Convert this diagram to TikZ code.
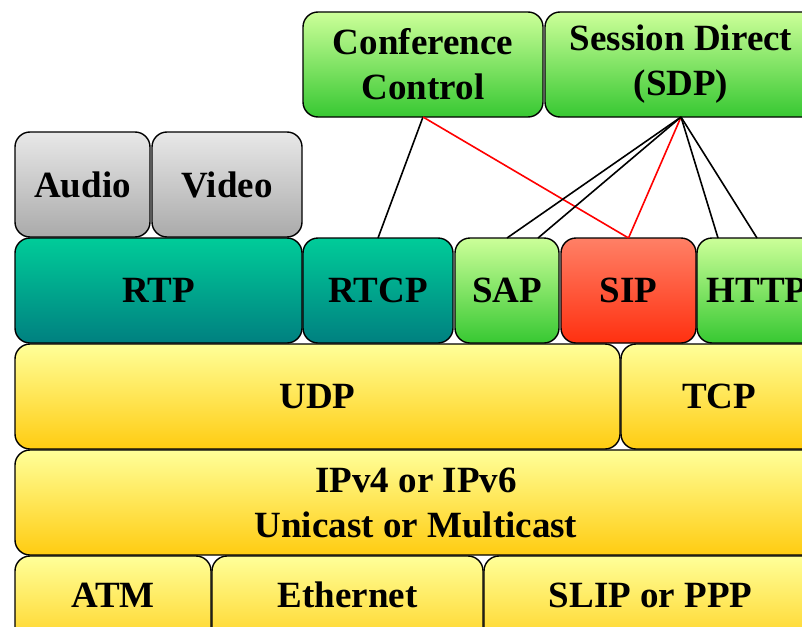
\documentclass[tikz,border=0pt]{standalone}
\usepackage{fontspec}
\setmainfont{Liberation Serif}
\usetikzlibrary{calc}
\definecolor{gtop}{RGB}{204,255,153}
\definecolor{gbot}{RGB}{55,200,50}
\definecolor{ttop}{RGB}{0,204,153}
\definecolor{tbot}{RGB}{0,128,128}
\definecolor{ytop}{RGB}{255,255,153}
\definecolor{ybot}{RGB}{255,204,17}
\definecolor{rtop}{RGB}{255,128,102}
\definecolor{rbot}{RGB}{255,48,16}
\definecolor{atop}{RGB}{232,232,232}
\definecolor{abot}{RGB}{170,170,170}
\begin{document}
\begin{tikzpicture}[x=1pt,y=-1pt,
  box/.style={draw=black, line width=1.4pt, rounded corners=15pt, inner sep=0pt, outer sep=0pt,
    minimum height=105pt, font=\fontsize{37}{45}\selectfont\bfseries, align=center},
  gbox/.style={box, top color=gtop, bottom color=gbot},
  tbox/.style={box, top color=ttop, bottom color=tbot},
  ybox/.style={box, top color=ytop, bottom color=ybot},
  rbox/.style={box, top color=rtop, bottom color=rbot},
  abox/.style={box, top color=atop, bottom color=abot},
  conn/.style={draw=black, line width=1.6pt},
  redconn/.style={draw=red, line width=1.6pt}]
\useasboundingbox (0,0) rectangle (802,626);
\clip (0,0) rectangle (802,626);
% top row
\node[gbox, minimum width=240pt] (cc) at (423,64.5) {Conference\\Control};
\node[gbox, minimum width=272pt] (sdp) at (681,64.5) {Session Direct\\(SDP)};
% media
\node[abox, minimum width=135pt] (audio) at (82.5,184.5) {Audio};
\node[abox, minimum width=150pt] (video) at (227,184.5) {Video};
% application protocols
\node[tbox, minimum width=287pt] (rtp) at (158.5,290.5) {RTP};
\node[tbox, minimum width=150pt] (rtcp) at (378,290.5) {RTCP};
\node[gbox, minimum width=104pt] (sap) at (507,290.5) {SAP};
\node[rbox, minimum width=135pt] (sip) at (628.5,290.5) {SIP};
\node[gbox, minimum width=120pt] (http) at (757,290.5) {HTTP};
% transport
\node[ybox, minimum width=605pt] (udp) at (317.5,396.5) {UDP};
\node[ybox, minimum width=196pt] (tcp) at (719,396.5) {TCP};
% network
\node[ybox, minimum width=802pt] (ip) at (416,502.5) {IPv4 or IPv6\\Unicast or Multicast};
% link
\node[ybox, minimum width=196pt, text depth=27pt] (atm) at (113,608.5) {ATM};
\node[ybox, minimum width=271pt, text depth=27pt] (eth) at (347.5,608.5) {Ethernet};
\node[ybox, minimum width=333pt, text depth=27pt] (slip) at (650.5,608.5) {SLIP or PPP};
% connectors
\draw[conn] (cc.south) -- (rtcp.north);
\draw[redconn] (cc.south) -- (sip.north);
\draw[redconn] (sdp.south) -- (sip.north);
\draw[conn] (sdp.south) -- (sap.north);
\draw[conn] (sdp.south) -- ([xshift=-21pt]sap.north east);
\draw[conn] (sdp.south) -- ([xshift=21pt]http.north west);
\draw[conn] (sdp.south) -- (http.north);
\end{tikzpicture}
\end{document}
